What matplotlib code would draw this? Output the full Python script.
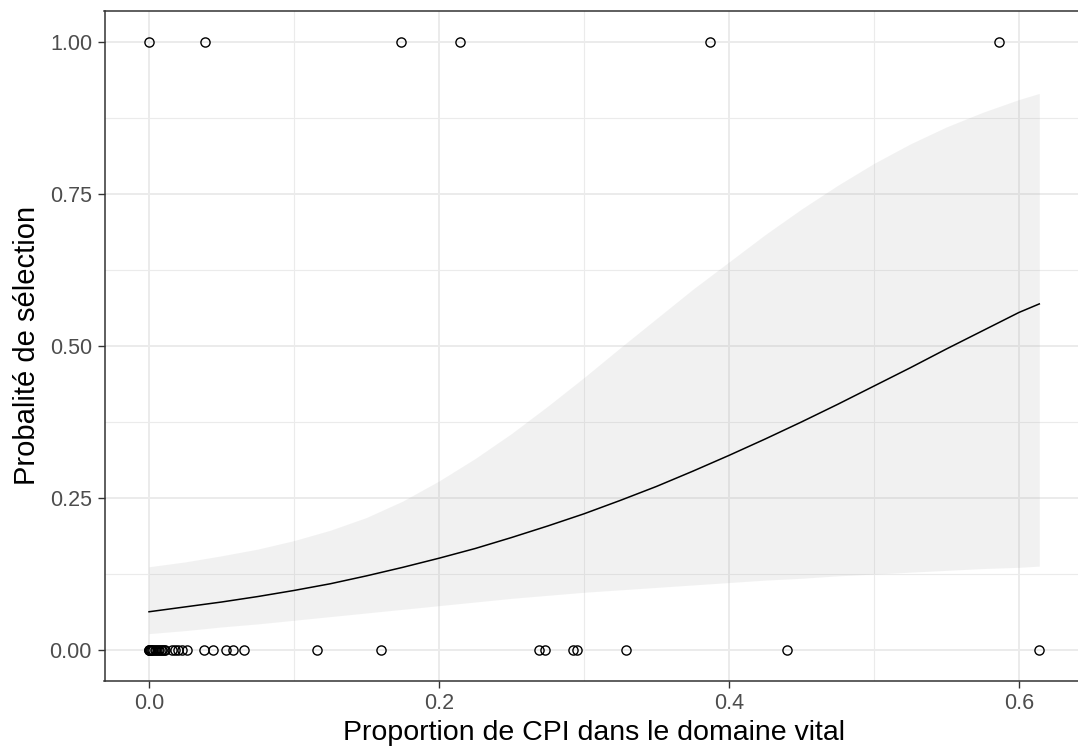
import matplotlib
matplotlib.use('Agg')
import matplotlib.pyplot as plt
from matplotlib.ticker import MultipleLocator

plt.rcParams['font.family'] = ['Liberation Sans', 'DejaVu Sans']

# observed points (y = 1 : selected, y = 0 : not selected)
x_sel = [0.0, 0.0386, 0.1735, 0.2145, 0.3869, 0.5862]
x_nonsel = [0.0, 0.0, 0.0, 0.0005, 0.001, 0.0015, 0.002, 0.003, 0.004,
            0.005, 0.006, 0.007, 0.008, 0.009, 0.010, 0.011,
            0.016, 0.018, 0.020, 0.023, 0.0264,
            0.0381, 0.0439, 0.0531, 0.0581, 0.0657,
            0.1157, 0.160, 0.2687, 0.2728, 0.2926, 0.295,
            0.3288, 0.4403, 0.614]

# fitted curve and confidence band
fit_x = [0.0, 0.025, 0.05, 0.075, 0.1, 0.125, 0.15, 0.175, 0.2, 0.225,
         0.25, 0.275, 0.3, 0.325, 0.35, 0.375, 0.4, 0.425, 0.45, 0.475,
         0.5, 0.525, 0.55, 0.575, 0.6, 0.614]
fit_y = [0.063, 0.071, 0.079, 0.088, 0.098, 0.109, 0.122, 0.136, 0.151,
         0.167, 0.185, 0.204, 0.224, 0.246, 0.269, 0.294, 0.320, 0.347,
         0.375, 0.404, 0.434, 0.464, 0.495, 0.525, 0.555, 0.569]
fit_hi = [0.137, 0.145, 0.155, 0.166, 0.180, 0.197, 0.218, 0.245, 0.278,
          0.315, 0.356, 0.401, 0.448, 0.497, 0.545, 0.593, 0.638, 0.683,
          0.725, 0.764, 0.800, 0.832, 0.860, 0.884, 0.905, 0.915]
fit_lo = [0.027, 0.032, 0.038, 0.043, 0.049, 0.055, 0.061, 0.067, 0.073,
          0.079, 0.085, 0.090, 0.095, 0.099, 0.103, 0.107, 0.111, 0.115,
          0.118, 0.122, 0.125, 0.128, 0.131, 0.134, 0.136, 0.138]

fig = plt.figure(figsize=(10.78, 7.52), dpi=100)
ax = fig.add_axes([104.5 / 1078, 1 - 680.5 / 752,
                   (1083.8 - 104.5) / 1078, (680.5 - 11.3) / 752])

ax.fill_between(fit_x, fit_lo, fit_hi, color='#999999', alpha=0.13,
                linewidth=0, zorder=2)
ax.plot(fit_x, fit_y, color='black', linewidth=1.1, zorder=3)

ax.plot(x_nonsel, [0] * len(x_nonsel), 'o', mfc='none', mec='black',
        ms=6.6, mew=1.0, zorder=4, clip_on=False)
ax.plot(x_sel, [1] * len(x_sel), 'o', mfc='none', mec='black',
        ms=6.6, mew=1.0, zorder=4, clip_on=False)

ax.set_xlim(-0.0307, 0.6447)
ax.set_ylim(-0.05, 1.05)
ax.xaxis.set_minor_locator(MultipleLocator(0.1))
ax.yaxis.set_minor_locator(MultipleLocator(0.125))
ax.set_xticks([0.0, 0.2, 0.4, 0.6], ['0.0', '0.2', '0.4', '0.6'])
ax.set_yticks([0.0, 0.25, 0.5, 0.75, 1.0],
              ['0.00', '0.25', '0.50', '0.75', '1.00'])

ax.grid(which='major', color='#EBEBEB', linewidth=1.4, zorder=0)
ax.grid(which='minor', color='#EBEBEB', linewidth=0.8, zorder=0)
ax.set_axisbelow(True)

for s in ax.spines.values():
    s.set_color('#333333')
    s.set_linewidth(1.1)

ax.tick_params(which='major', length=5, width=1.0, color='#333333',
               labelcolor='#4D4D4D', labelsize=15.5, pad=4)
ax.tick_params(which='minor', length=0)

ax.set_xlabel('Proportion de CPI dans le domaine vital', fontsize=20.5,
              labelpad=4)
ax.set_ylabel('Probalité de sélection', fontsize=21, labelpad=6)

plt.savefig('out.png', dpi=100)
plt.close()
print("Saved: out.png")
